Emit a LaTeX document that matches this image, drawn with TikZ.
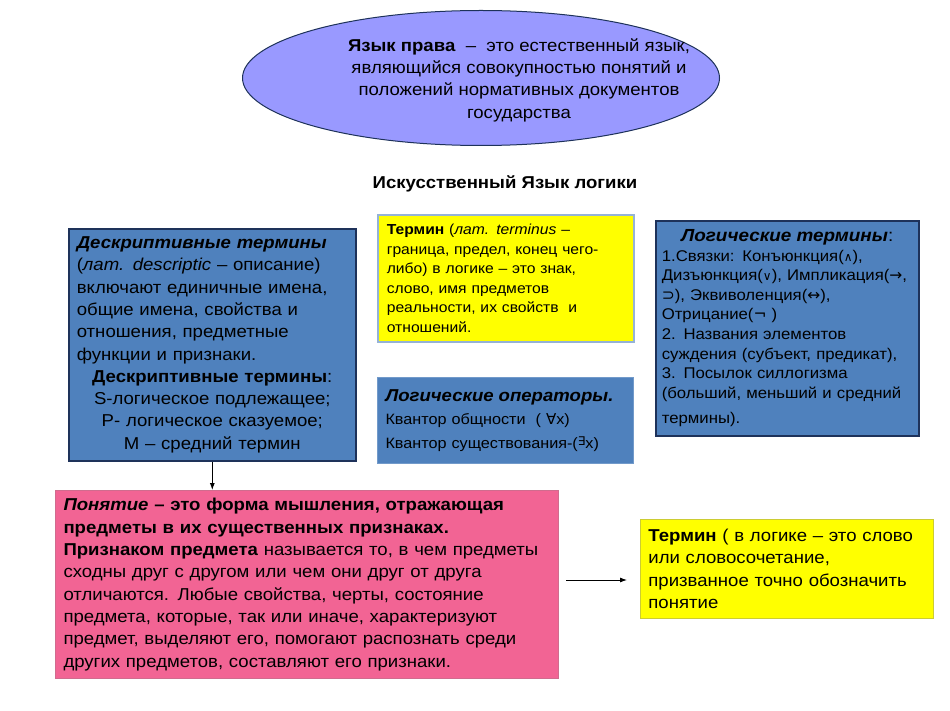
\documentclass[tikz,border=0pt]{standalone}
\usepackage{fontspec}
\setmainfont{Liberation Sans}[FakeStretch=1.08]
\newfontfamily\symf{DejaVu Sans}
\usetikzlibrary{shapes.geometric,arrows.meta}
\definecolor{lav}{RGB}{153,153,255}
\definecolor{bluebox}{RGB}{79,129,189}
\definecolor{navy}{RGB}{30,50,90}
\definecolor{pinkbox}{RGB}{242,100,148}
\definecolor{ylw}{RGB}{255,255,0}
\definecolor{ylwedge}{RGB}{149,179,215}
\tikzset{
  box/.style={rectangle, anchor=north west, inner xsep=9pt, inner ysep=0pt, align=left},
  big/.style={font=\fontsize{17.2}{22.3}\selectfont},
  small/.style={font=\fontsize{14.5}{19.6}\selectfont},
  arr/.style={-{Latex[length=7pt,width=5pt]}, line width=0.9pt}
}
\begin{document}
\begin{tikzpicture}[x=1pt,y=-1pt]
\useasboundingbox (0,0) rectangle (950,711);
\fill[white] (0,0) rectangle (950,711);
% ellipse
\node[ellipse, draw=navy, line width=1pt, fill=lav, minimum width=477pt, minimum height=135pt] (lang) at (481,78) {};
\node[big, align=center] (langtext) at (519,80) {\textbf{Язык права} \ – \ это естественный язык,\\
являющийся совокупностью понятий и\\
положений нормативных документов\\
государства};
% title
\node[font=\fontsize{17.2}{20}\selectfont\bfseries] (title) at (505,184) {Искусственный Язык логики};
% left descriptive box
\node[box, big, draw=navy, line width=1.6pt, fill=bluebox, minimum width=287pt, minimum height=232pt, text width=271pt, inner xsep=8pt] (desc) at (68,228) {\textbf{\textit{Дескриптивные термины}}\\
(\textit{лат. descriptic} – описание)\\
включают единичные имена,\\
общие имена, свойства и\\
отношения, предметные\\
функции и  признаки.\par\centering
\textbf{Дескриптивные термины}:\\
S-логическое подлежащее;\\
P- логическое сказуемое;\\
M – средний термин\par};
% middle yellow
\node[box, small, draw=ylwedge, line width=1.6pt, fill=ylw, minimum width=256pt, minimum height=127pt, text width=238pt] (term) at (377,214) {\textbf{Термин} (\textit{лат. terminus} –\\
граница, предел, конец чего-\\
либо) в логике – это знак,\\
слово, имя предметов\\
реальности, их свойств \ и\\
отношений.};
% right blue
\node[box, font=\fontsize{15.5}{19.6}\selectfont, draw=navy, line width=1.6pt, fill=bluebox, minimum width=263pt, minimum height=215pt, text width=251pt, inner xsep=6pt] (logic) at (655,220) {\centering{\fontsize{17.5}{19.6}\selectfont\textbf{\textit{Логические термины}}:}\par\raggedright
1.Связки: Конъюнкция({\symf\fontsize{12}{12}\selectfont ∧}),\\
Дизъюнкция({\symf\fontsize{12}{12}\selectfont ∨}), Импликация({\symf →},\\
{\symf ⊃}), Эквиволенция({\symf ↔}),\\
Отрицание({\symf ¬} )\\
2. Названия элементов\\
суждения (субъект, предикат),\\
3. Посылок силлогизма\\
(больший, меньший и средний\\[6pt]
термины).};
% operators
\node[box, font=\fontsize{15}{19.6}\selectfont, draw=bluebox!80!white, line width=1pt, fill=bluebox, minimum width=256pt, minimum height=86pt, text width=240pt, inner xsep=8pt] (oper) at (377,377) {{\fontsize{17.2}{19.6}\selectfont\textbf{\textit{Логические операторы.}}}\\[4pt]
Квантор общности \ ( {\symf ∀}x)\\[4pt]
Квантор существования-({\symf\raisebox{3pt}{\fontsize{12}{12}\selectfont ∃}}x)};
% pink
\node[box, big, draw=pinkbox!70!gray, line width=1pt, fill=pinkbox, minimum width=503pt, minimum height=188pt, text width=487pt, inner xsep=8pt] (concept) at (55,490) {\textbf{\textit{Понятие} – это форма мышления, отражающая}\\
\textbf{предметы в их существенных признаках.}\\
\textbf{Признаком предмета} называется то, в чем предметы\\
сходны друг с другом или чем они друг от друга\\
отличаются. Любые свойства, черты, состояние\\
предмета, которые, так или иначе, характеризуют\\
предмет, выделяют его, помогают распознать среди\\
других предметов, составляют его признаки.};
% right yellow
\node[box, big, draw=ylw!60!gray, line width=0.8pt, fill=ylw, minimum width=293pt, minimum height=99pt, text width=277pt, inner xsep=8pt] (term2) at (640,519) {\textbf{Термин} ( в логике – это слово\\
или словосочетание,\\
призванное точно обозначить\\
понятие};
% arrows
\draw[arr] (desc.south) -- (desc.south |- concept.north);
\coordinate (h1) at (566,580);
\coordinate (h2) at (627,580);
\draw[arr] (h1) -- (h2);
\end{tikzpicture}
\end{document}
